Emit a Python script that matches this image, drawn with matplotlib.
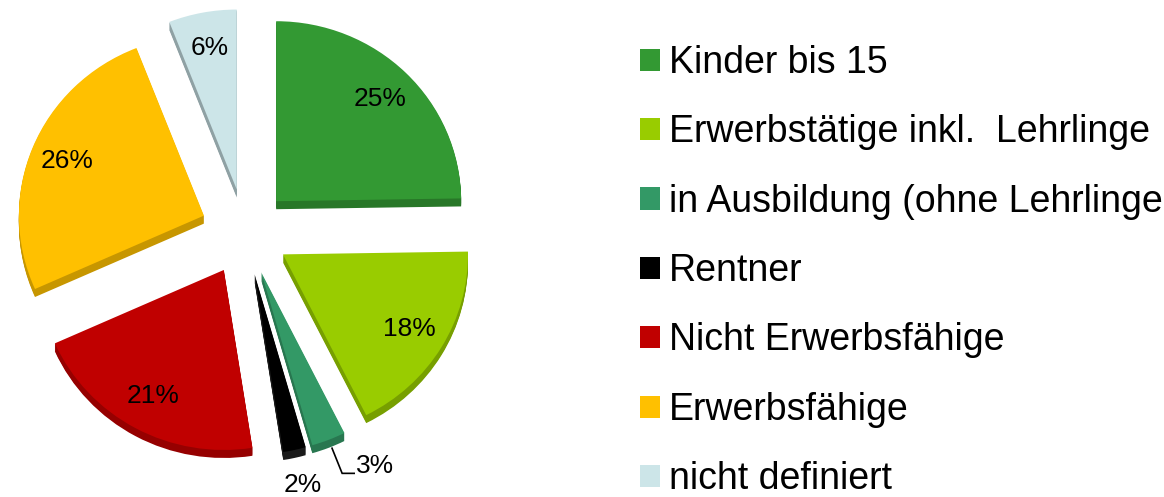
import matplotlib
matplotlib.use('Agg')
import matplotlib.pyplot as plt
import numpy as np
from matplotlib.colors import to_rgb

categories = ["Kinder bis 15", "Erwerbstätige inkl.  Lehrlinge",
              "in Ausbildung (ohne Lehrlinge", "Rentner",
              "Nicht Erwerbsfähige", "Erwerbsfähige", "nicht definiert"]
shares = [25, 18, 3, 2, 21, 26, 6]
pct_labels = ["25%", "18%", "3%", "2%", "21%", "26%", "6%"]
colors = ['#339933', '#99CC00', '#339966', '#000000', '#C00000', '#FFC000', '#CCE5E8']

plt.rcParams['font.family'] = ['Liberation Sans', 'DejaVu Sans']

W, H = 1164, 497
fig = plt.figure(figsize=(W / 100, H / 100), dpi=100)
ax = fig.add_axes([0, 0, 1, 1])

RX_PX = 185.0
RY_PX = 180.0
CX, CY = 245.0, 232.0
explode = [0.24] * len(shares)
depth_px = 8

dark = [tuple(c * 0.78 for c in to_rgb(col)) for col in colors]
dark[6] = '#8FA1A4'
dark[3] = '#1a1a1a'

for k in range(depth_px, 0, -1):
    ax.pie(shares, colors=dark, explode=explode, startangle=90, counterclock=False,
           center=(0, -k / RY_PX), wedgeprops=dict(linewidth=0))
wedges, _ = ax.pie(shares, colors=colors, explode=explode, startangle=90,
                   counterclock=False, wedgeprops=dict(linewidth=0))

def unit(deg):
    r = np.deg2rad(deg)
    return np.array([np.cos(r), np.sin(r)])

for w, lab in zip(wedges, pct_labels):
    mid = 0.5 * (w.theta1 + w.theta2)
    c = np.array(w.center)
    u = unit(mid)
    if lab == "3%":
        tip = c + 1.05 * u
        elbow = c + 1.2 * u
        end = elbow + np.array([0.065, 0.0])
        ax.plot([tip[0], elbow[0], end[0]], [tip[1], elbow[1], end[1]],
                color='black', lw=1.2, solid_joinstyle='miter')
        ax.text(end[0] + 0.01, end[1] + 0.04, lab, ha='left', va='center', fontsize=19)
    elif lab == "2%":
        p = c + 1.2 * u
        ax.text(p[0], p[1], lab, ha='center', va='center', fontsize=19)
    else:
        p = c + 0.8 * u
        ax.text(p[0], p[1], lab, ha='center', va='center', fontsize=19)

ax.set_aspect('auto')
ax.set_xlim(-CX / RX_PX, (W - CX) / RX_PX)
ax.set_ylim((CY - H) / RY_PX, CY / RY_PX)
ax.axis('off')

fig.legend(wedges, categories, loc='upper left',
           bbox_to_anchor=(640 / W, 1 - 45 / H), frameon=False, fontsize=27,
           handlelength=0.53, handleheight=0.53, handletextpad=0.25,
           labelspacing=0.89, borderpad=0, borderaxespad=0)

fig.savefig('out.png', dpi=100)
